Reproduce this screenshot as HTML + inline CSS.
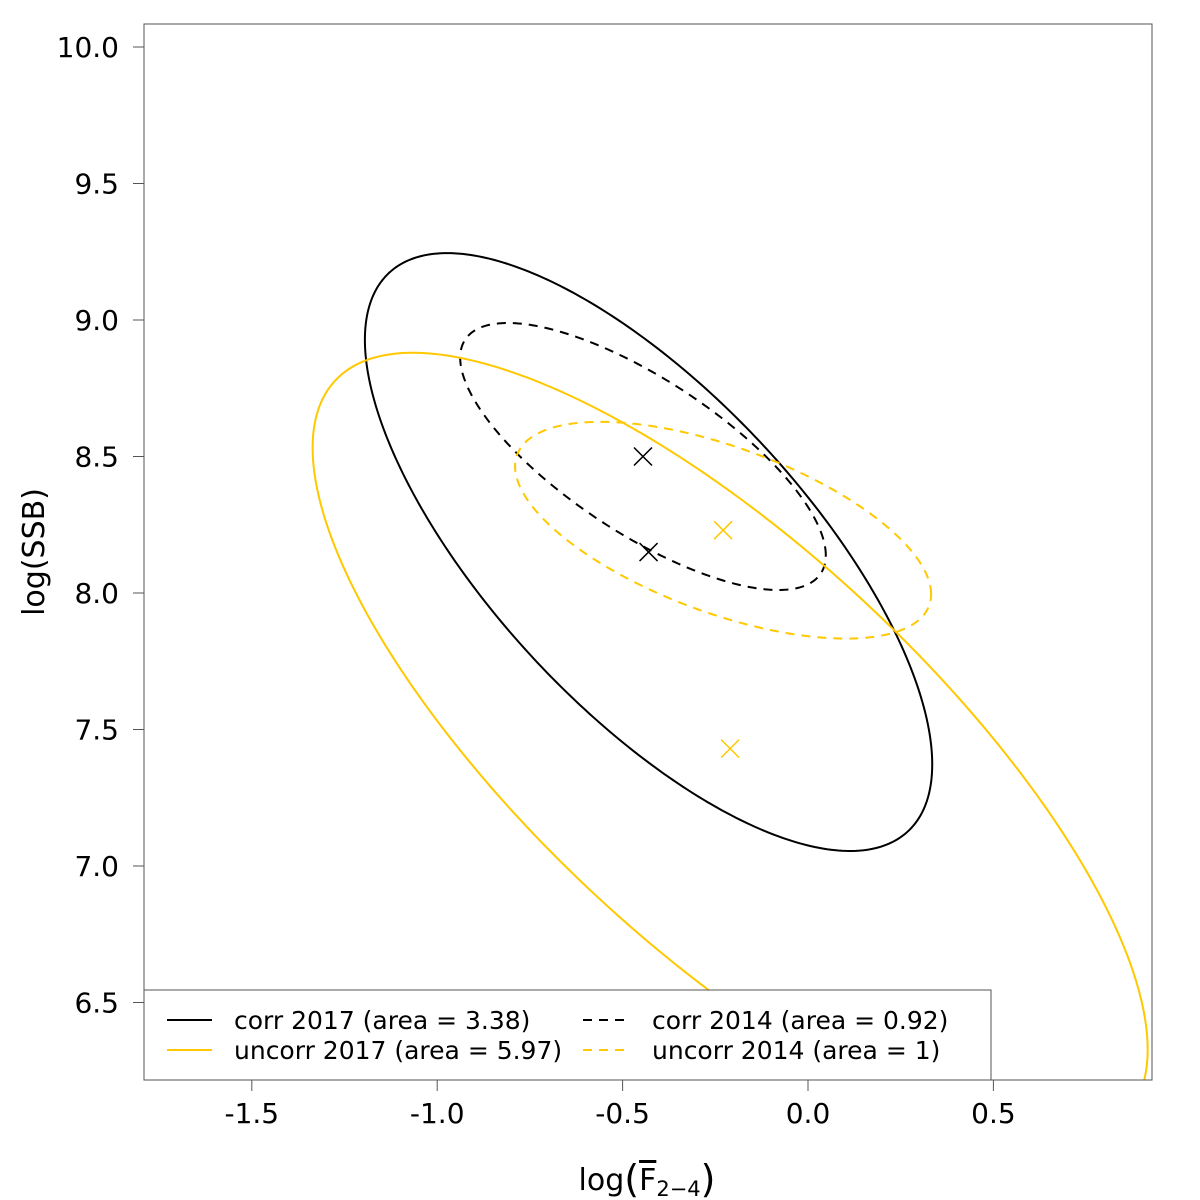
<!DOCTYPE html>
<html><head><meta charset="utf-8"><style>
html,body{margin:0;padding:0;background:#fff;width:1200px;height:1200px;overflow:hidden}
svg{display:block;font-family:"DejaVu Sans","Liberation Sans",sans-serif}
</style></head><body>
<svg id="chart" width="1200" height="1200" viewBox="0 0 1200 1200">
<defs><clipPath id="plotclip"><rect x="144" y="24" width="1008" height="1056"/></clipPath></defs>
<g id="marks" clip-path="url(#plotclip)"></g>
<rect x="144" y="24" width="1008" height="1056" fill="none" stroke="#555" stroke-width="1"/>
<g id="axes"></g>
<g>
<rect x="144" y="990" width="847" height="90" fill="#fff" stroke="#555" stroke-width="1"/>
<line x1="167" y1="1020" x2="212" y2="1020" stroke="#000" stroke-width="2"/>
<text x="234" y="1029" font-size="25">corr 2017 (area = 3.38)</text>
<line x1="167" y1="1050" x2="212" y2="1050" stroke="#FFC800" stroke-width="2"/>
<text x="234" y="1059" font-size="25">uncorr 2017 (area = 5.97)</text>
<line x1="583" y1="1020" x2="628" y2="1020" stroke="#000" stroke-width="2" stroke-dasharray="9,7"/>
<text x="652" y="1029" font-size="25">corr 2014 (area = 0.92)</text>
<line x1="583" y1="1050" x2="628" y2="1050" stroke="#FFC800" stroke-width="2" stroke-dasharray="9,7"/>
<text x="652" y="1059" font-size="25">uncorr 2014 (area = 1)</text>
</g>
<text x="647" y="1190" font-size="30" text-anchor="middle">log<tspan font-size="38" dy="2">(</tspan><tspan dy="-2" text-decoration="overline">F</tspan><tspan font-size="21" dy="6">2−4</tspan><tspan font-size="38" dy="-4">)</tspan></text>
<text transform="translate(44,552) rotate(-90)" font-size="30" text-anchor="middle">log(SSB)</text>
</svg>
<script>
const seriesNames=["corr-2017","corr-2014","uncorr-2017","uncorr-2014"];
const centerX=[-0.43,-0.445,-0.21,-0.229];
const centerY=[8.15,8.50,7.43,8.23];
const sdX=[0.765,0.493,1.126,0.561];
const sdY=[1.095,0.489,1.45,0.397];
const rho=[-0.71,-0.74,-0.76,-0.59];
const xTicks=[-1.5,-1.0,-0.5,0.0,0.5];
const yTicks=[6.5,7.0,7.5,8.0,8.5,9.0,9.5,10.0];
const colors=["#000","#000","#FFC800","#FFC800"];
const dashes=["","9,7","","9,7"];
const NS="http://www.w3.org/2000/svg";
function sx(v){return 808+(v-0)*370.8;}
function sy(v){return 593-(v-8)*273;}
const marks=document.getElementById('marks');
const axes=document.getElementById('axes');
for(let i=0;i<seriesNames.length;i++){
  let d="";
  for(let k=0;k<=360;k++){
    const t=k*Math.PI/180;
    const x=centerX[i]+sdX[i]*Math.cos(t);
    const y=centerY[i]+sdY[i]*(rho[i]*Math.cos(t)+Math.sqrt(1-rho[i]*rho[i])*Math.sin(t));
    d+=(k?"L":"M")+sx(x).toFixed(2)+","+sy(y).toFixed(2);
  }
  const p=document.createElementNS(NS,'path');
  p.setAttribute('d',d);p.setAttribute('fill','none');p.setAttribute('stroke',colors[i]);p.setAttribute('stroke-width','2');
  if(dashes[i])p.setAttribute('stroke-dasharray',dashes[i]);
  
  
  marks.appendChild(p);
  const cx=sx(centerX[i]),cy=sy(centerY[i]);
  const c=document.createElementNS(NS,'path');
  c.setAttribute('d',`M${cx-9},${cy-9}L${cx+9},${cy+9}M${cx-9},${cy+9}L${cx+9},${cy-9}`);
  c.setAttribute('stroke',colors[i]);c.setAttribute('stroke-width','1.5');
  
  
  marks.appendChild(c);
}
xTicks.forEach(v=>{
  const x=sx(v);
  const l=document.createElementNS(NS,'line');
  l.setAttribute('x1',x);l.setAttribute('x2',x);l.setAttribute('y1',1080);l.setAttribute('y2',1091);l.setAttribute('stroke','#555');
  
  
  axes.appendChild(l);
  const t=document.createElementNS(NS,'text');
  t.setAttribute('x',x);t.setAttribute('y',1123);t.setAttribute('font-size','28');t.setAttribute('text-anchor','middle');
  t.textContent=v.toFixed(1);
  
  
  axes.appendChild(t);
});
yTicks.forEach(v=>{
  const y=sy(v);
  const l=document.createElementNS(NS,'line');
  l.setAttribute('x1',133);l.setAttribute('x2',144);l.setAttribute('y1',y);l.setAttribute('y2',y);l.setAttribute('stroke','#555');
  
  
  axes.appendChild(l);
  const t=document.createElementNS(NS,'text');
  t.setAttribute('x',119);t.setAttribute('y',y+10);t.setAttribute('font-size','28');t.setAttribute('text-anchor','end');
  t.textContent=v.toFixed(1);
  
  
  axes.appendChild(t);
});
</script>
</body></html>
